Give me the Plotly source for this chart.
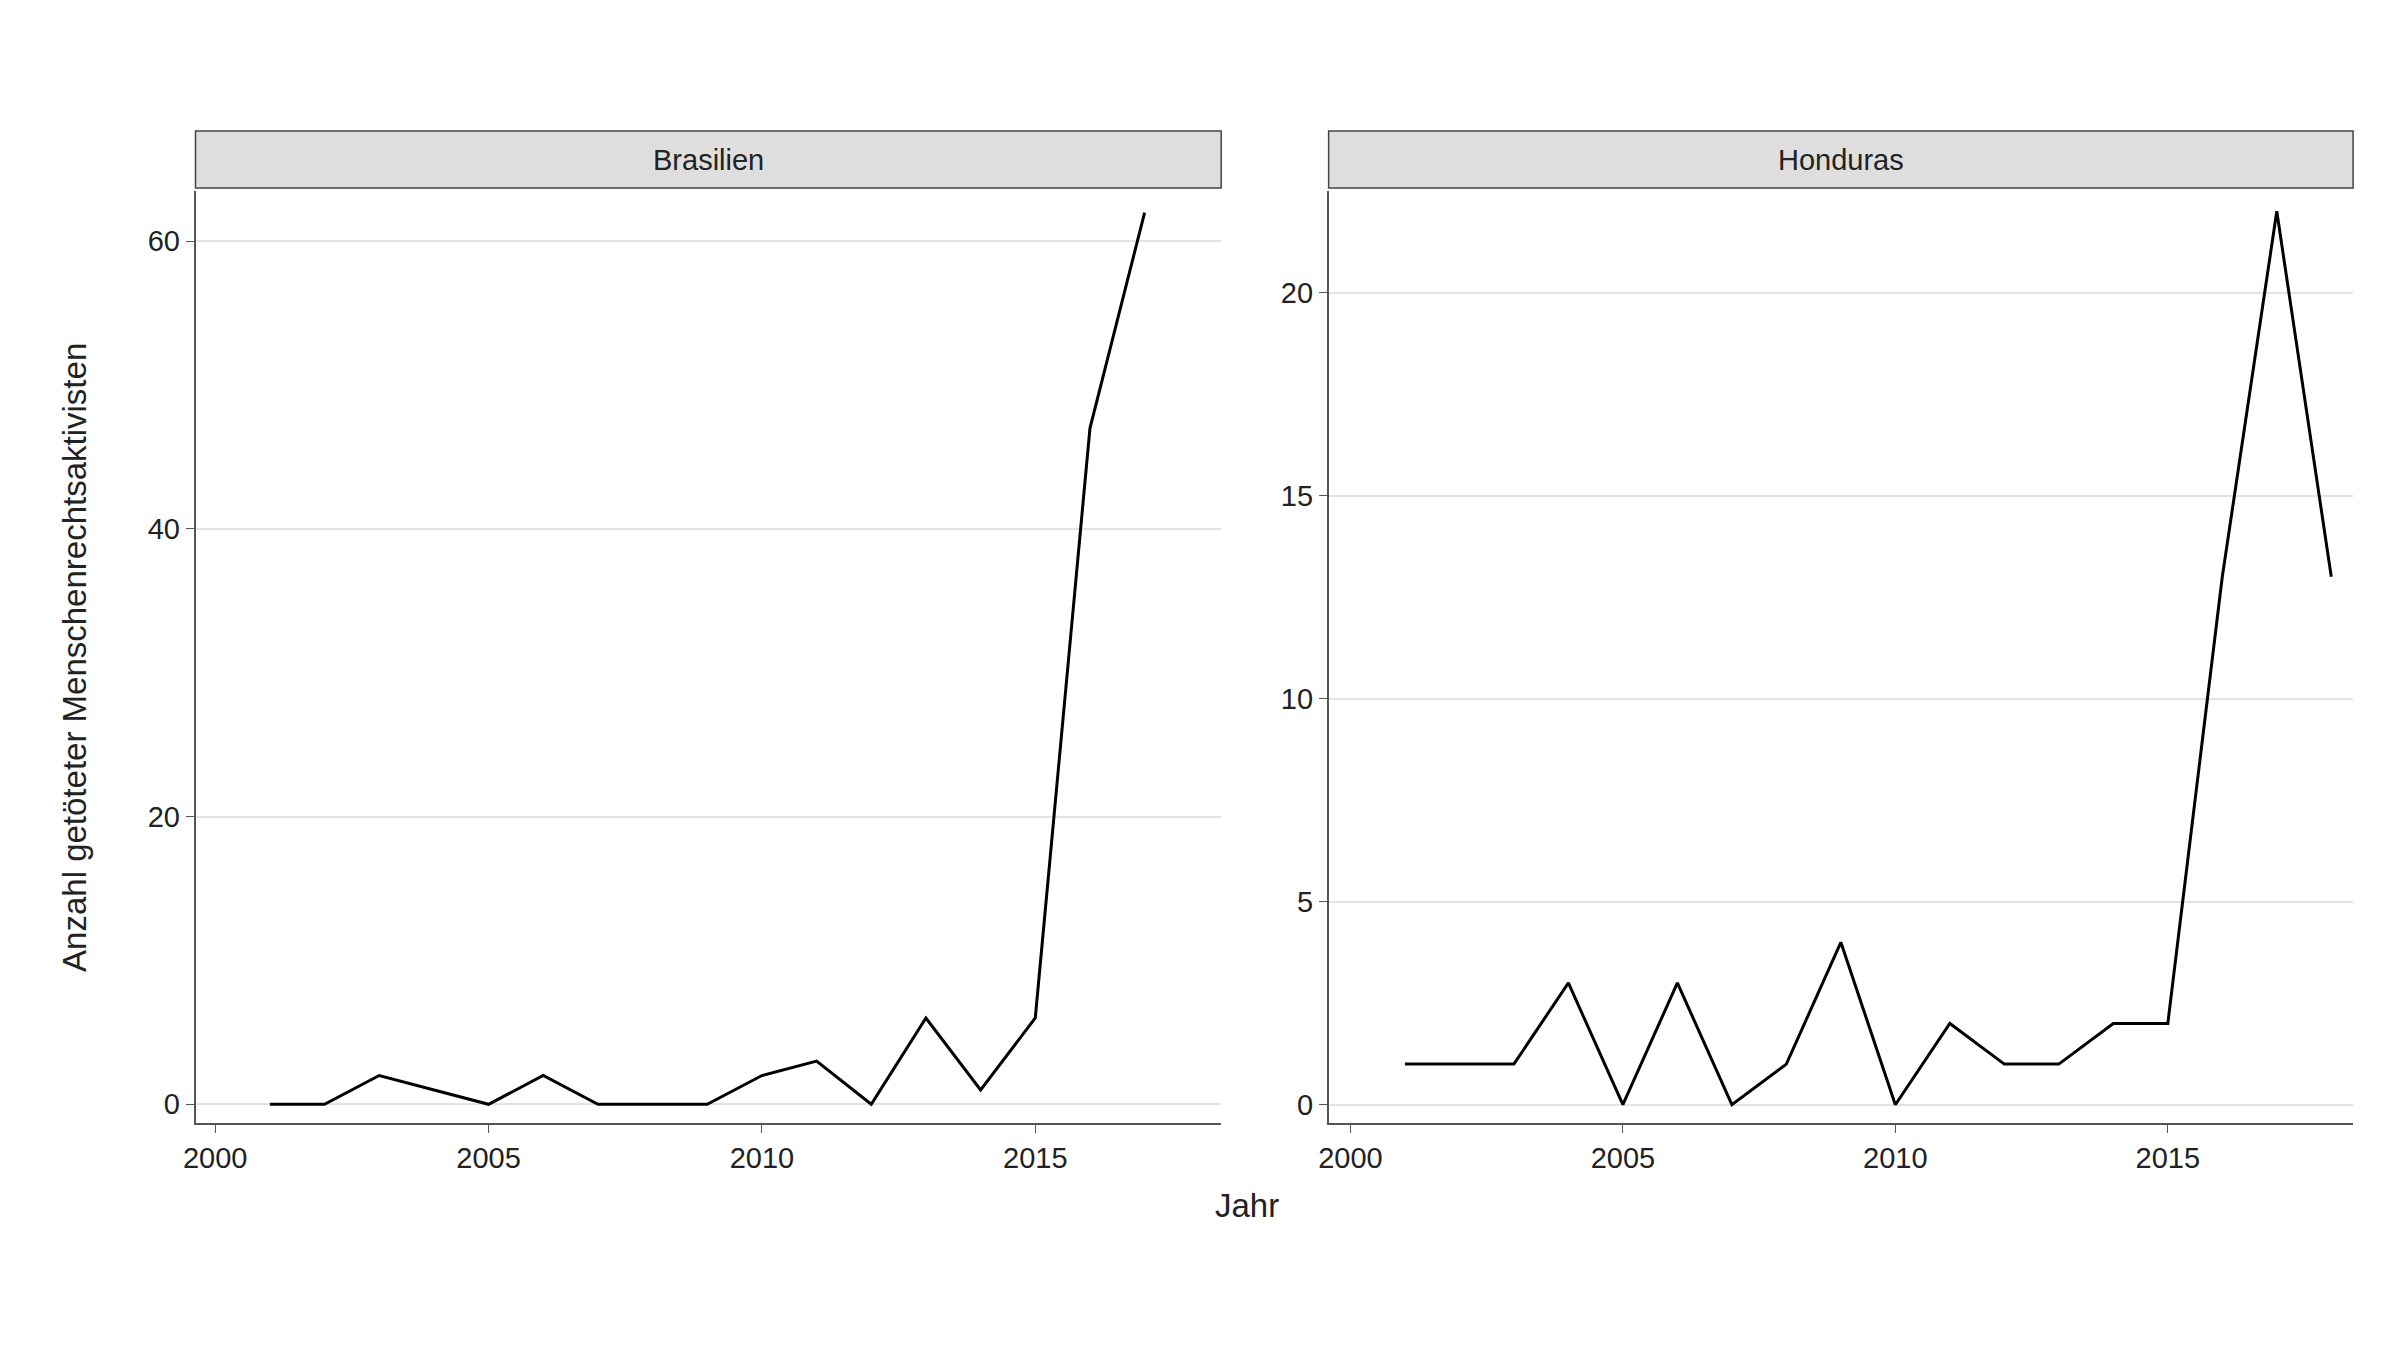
import plotly.graph_objects as go

years_br = list(range(2001, 2018))
vals_br = [0, 0, 2, 1, 0, 2, 0, 0, 0, 2, 3, 0, 6, 1, 6, 47, 62]
years_hn = list(range(2001, 2019))
vals_hn = [1, 1, 1, 3, 0, 3, 0, 1, 4, 0, 2, 1, 1, 2, 2, 13, 22, 13]
panels = ["Brasilien", "Honduras"]

fig = go.Figure()
fig.add_trace(go.Scatter(x=years_br, y=vals_br, mode="lines", line=dict(color="black", width=3),
                         xaxis="x", yaxis="y", showlegend=False))
fig.add_trace(go.Scatter(x=years_hn, y=vals_hn, mode="lines", line=dict(color="black", width=3),
                         xaxis="x2", yaxis="y2", showlegend=False))

font = dict(family="Liberation Sans, Arial", size=29, color="#222")
axcommon = dict(showline=True, linecolor="#555", linewidth=1.5, ticks="outside", ticklen=8,
                tickcolor="#555", tickfont=font, zeroline=False)
d1 = [0.0735, 0.503]
d2 = [0.548, 0.977]
fig.update_layout(
    width=2400, height=1350, plot_bgcolor="white", paper_bgcolor="white",
    margin=dict(l=0, r=0, t=183, b=235),
    xaxis=dict(domain=d1, range=[1999.64, 2018.4], tickvals=[2000, 2005, 2010, 2015], showgrid=False, **axcommon),
    yaxis=dict(range=[-1.3, 63.5], tickvals=[0, 20, 40, 60], showgrid=True, gridcolor="#e3e3e3", gridwidth=1.5, **axcommon),
    xaxis2=dict(domain=d2, range=[1999.6, 2018.4], tickvals=[2000, 2005, 2010, 2015], showgrid=False, anchor="y2", **axcommon),
    yaxis2=dict(range=[-0.45, 22.5], tickvals=[0, 5, 10, 15, 20], showgrid=True, gridcolor="#e3e3e3", gridwidth=1.5, anchor="x2", **axcommon),
)
strip_y0 = 1 + 3 / 932
strip_y1 = 1 + 60 / 932
for name, d in zip(panels, [d1, d2]):
    fig.add_shape(type="rect", xref="paper", yref="paper", x0=d[0], x1=d[1], y0=strip_y0, y1=strip_y1,
                  fillcolor="#dedede", line=dict(color="#444", width=1.5))
    fig.add_annotation(text=name, xref="paper", yref="paper", x=(d[0] + d[1]) / 2, y=(strip_y0 + strip_y1) / 2,
                       showarrow=False, font=font, xanchor="center", yanchor="middle")
fig.add_annotation(text="Jahr", xref="paper", yref="paper", x=0.514, y=-0.11, showarrow=False,
                   font=dict(family="Liberation Sans, Arial", size=33, color="#222"))
fig.add_annotation(text="Anzahl getöteter Menschenrechtsaktivisten", xref="paper", yref="paper",
                   x=0.014, y=0.5, textangle=-90, showarrow=False,
                   font=dict(family="Liberation Sans, Arial", size=33, color="#222"))
fig.write_html("out.html")
